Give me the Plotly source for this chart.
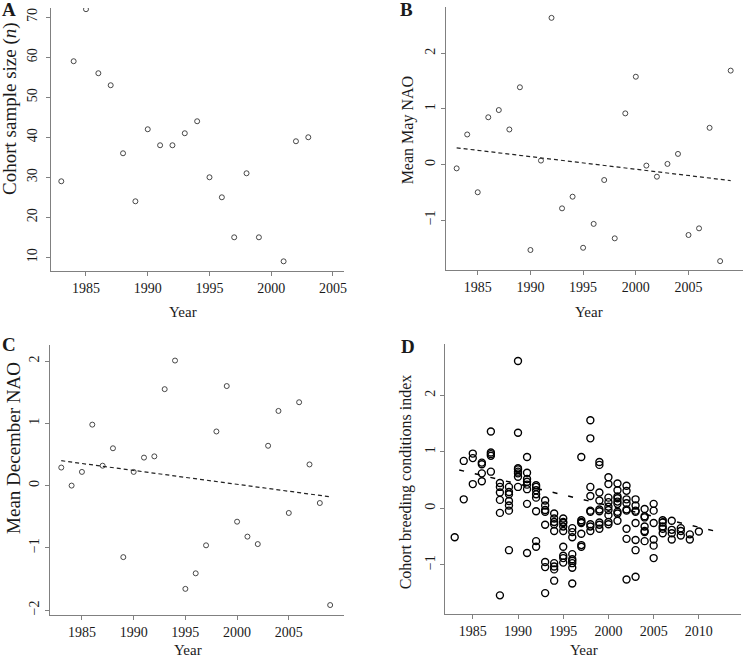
import plotly.graph_objects as go

# ---------------- data ----------------
years_a = [1983, 1984, 1985, 1986, 1987, 1988, 1989, 1990, 1991, 1992,
           1993, 1994, 1995, 1996, 1997, 1998, 1999, 2001, 2002, 2003]
sample_size = [29, 59, 72, 56, 53, 36, 24, 42, 38, 38,
               41, 44, 30, 25, 15, 31, 15, 9, 39, 40]

years_nao = list(range(1983, 2010))
may_nao = [-0.07, 0.54, -0.50, 0.85, 0.98, 0.63, 1.39, -1.54, 0.07, 2.64,
           -0.79, -0.58, -1.50, -1.07, -0.28, -1.33, 0.92, 1.58, -0.02, -0.22,
           0.01, 0.19, -1.27, -1.15, 0.66, -1.74, 1.69]
dec_nao = [0.29, 0.00, 0.22, 0.98, 0.32, 0.60, -1.15, 0.22, 0.45, 0.47,
           1.55, 2.01, -1.66, -1.41, -0.96, 0.87, 1.60, -0.58, -0.82, -0.94,
           0.64, 1.20, -0.44, 1.34, 0.34, -0.28, -1.92]

may_trend_x = [1983, 2009]
may_trend_y = [0.30, -0.29]
dec_trend_x = [1983, 2009]
dec_trend_y = [0.40, -0.18]

bci_by_year = {
    1983: [-0.51],
    1984: [0.84, 0.16],
    1985: [0.97, 0.89, 0.43],
    1986: [0.81, 0.78, 0.62, 0.48],
    1987: [1.36, 0.99, 0.96, 0.93, 0.65],
    1988: [0.45, 0.38, 0.28, 0.15, -0.08, -1.54],
    1989: [0.38, 0.29, 0.25, 0.13, 0.05, -0.04, -0.74],
    1990: [2.61, 1.34, 0.71, 0.69, 0.65, 0.62, 0.56, 0.38],
    1991: [0.91, 0.63, 0.52, 0.47, 0.42, 0.34, 0.08, -0.79],
    1992: [0.41, 0.38, 0.32, 0.25, 0.19, -0.05, -0.58, -0.68],
    1993: [0.14, 0.05, -0.03, -0.06, -0.29, -0.95, -1.04, -1.50],
    1994: [-0.09, -0.18, -0.24, -0.28, -0.40, -0.97, -1.03, -1.08, -1.28],
    1995: [-0.18, -0.24, -0.26, -0.32, -0.40, -0.68, -0.84, -0.88, -0.96],
    1996: [-0.35, -0.42, -0.51, -0.81, -0.90, -0.93, -0.97, -1.05, -1.33],
    1997: [0.91, -0.21, -0.24, -0.26, -0.45, -0.65, -0.68],
    1998: [1.56, 1.24, 0.38, 0.22, -0.04, -0.06, -0.28, -0.32, -0.40],
    1999: [0.82, 0.77, 0.28, 0.14, -0.02, -0.05, -0.25, -0.29, -0.36],
    2000: [0.55, 0.43, 0.19, 0.11, 0.03, -0.03, -0.12, -0.24, -0.28],
    2001: [0.44, 0.32, 0.21, 0.18, 0.12, 0.08, -0.06, -0.09, -0.22],
    2002: [0.40, 0.31, 0.16, 0.09, -0.02, -0.04, -0.36, -0.54, -1.26],
    2003: [0.16, 0.05, -0.04, -0.06, -0.26, -0.56, -0.74, -1.21],
    2004: [-0.01, -0.14, -0.16, -0.32, -0.40, -0.42, -0.58],
    2005: [0.08, -0.04, -0.26, -0.55, -0.66, -0.88],
    2006: [-0.21, -0.25, -0.32, -0.36, -0.44],
    2007: [-0.22, -0.38, -0.44, -0.55],
    2008: [-0.35, -0.40, -0.48],
    2009: [-0.46, -0.55],
    2010: [-0.41],
}
bci_years = [y for y, vals in bci_by_year.items() for _ in vals]
bci_values = [v for vals in bci_by_year.values() for v in vals]
bci_trend_x = [1983.5, 2012]
bci_trend_y = [0.68, -0.41]

# ---------------- figure ----------------
W, H = 747, 660
FONT = "Liberation Serif, Times New Roman, serif"
TXT = "#1a1a1a"
AX = "#808080"
TICK_SIZE = 14

def fx(px):
    return px / W

def fy(py):
    return 1 - py / H

fig = go.Figure()

small = dict(symbol="circle-open", size=5, color="#333333", line=dict(width=0.9, color="#333333"))
big = dict(symbol="circle-open", size=7, color="#000000", line=dict(width=1.4, color="#000000"))

fig.add_trace(go.Scatter(x=years_a, y=sample_size, mode="markers", marker=small,
                         xaxis="x", yaxis="y", showlegend=False))
fig.add_trace(go.Scatter(x=years_nao, y=may_nao, mode="markers", marker=small,
                         xaxis="x2", yaxis="y2", showlegend=False))
fig.add_trace(go.Scatter(x=may_trend_x, y=may_trend_y, mode="lines",
                         line=dict(color="#222222", width=1.2, dash="4px,3px"),
                         xaxis="x2", yaxis="y2", showlegend=False))
fig.add_trace(go.Scatter(x=years_nao, y=dec_nao, mode="markers", marker=small,
                         xaxis="x3", yaxis="y3", showlegend=False))
fig.add_trace(go.Scatter(x=dec_trend_x, y=dec_trend_y, mode="lines",
                         line=dict(color="#222222", width=1.2, dash="4px,3px"),
                         xaxis="x3", yaxis="y3", showlegend=False))
fig.add_trace(go.Scatter(x=bci_years, y=bci_values, mode="markers", marker=big,
                         xaxis="x4", yaxis="y4", showlegend=False))
fig.add_trace(go.Scatter(x=bci_trend_x, y=bci_trend_y, mode="lines",
                         line=dict(color="#000000", width=1.5, dash="5px,11px"),
                         xaxis="x4", yaxis="y4", showlegend=False))

def xax(dom, rng, anchor, tickvals, standoff=0):
    return dict(domain=dom, range=rng, anchor=anchor, showline=True, linecolor=AX, linewidth=1,
                showgrid=False, zeroline=False, ticks="outside", ticklen=4, tickcolor=AX,
                ticklabelstandoff=standoff,
                tickvals=tickvals, tickfont=dict(family=FONT, size=TICK_SIZE, color=TXT))

def yax(dom, rng, anchor, tickvals, standoff):
    return dict(domain=dom, range=rng, anchor=anchor, showline=True, linecolor=AX, linewidth=1,
                showgrid=False, zeroline=False, ticks="outside", ticklen=4, tickcolor=AX,
                ticklabelstandoff=standoff,
                tickvals=tickvals, tickangle=-90, tickfont=dict(family=FONT, size=TICK_SIZE, color=TXT))

yr_ticks = [1985, 1990, 1995, 2000, 2005]
fig.update_layout(
    width=W, height=H, margin=dict(l=0, r=0, t=0, b=0),
    paper_bgcolor="white", plot_bgcolor="white",
    font=dict(family=FONT, color=TXT),
    xaxis=xax([fx(51), fx(345)], [1982.15, 2005.86], "y", yr_ticks),
    yaxis=yax([fy(271), fy(8)], [6.58, 72.3], "x", [10, 20, 30, 40, 50, 60, 70], 3),
    xaxis2=xax([fx(447.7), fx(746)], [1981.98, 2010.17], "y2", yr_ticks),
    yaxis2=yax([fy(270), fy(7.3)], [-1.90, 2.83], "x2", [-1, 0, 1, 2], 0),
    xaxis3=xax([fx(50.7), fx(345)], [1981.96, 2010.3], "y3", yr_ticks),
    yaxis3=yax([fy(615), fy(345)], [-2.08, 2.26], "x3", [-2, -1, 0, 1, 2], 1),
    xaxis4=xax([fx(447), fx(744)], [1981.95, 2014.66], "y4", yr_ticks + [2010]),
    yaxis4=yax([fy(614), fy(344)], [-1.87, 2.91], "x4", [-1, 0, 1, 2], 0),
)

def ann(text, x, y, size=15, angle=0, bold=False):
    if bold:
        text = "<b>" + text + "</b>"
    fig.add_annotation(text=text, x=fx(x), y=fy(y), xref="paper", yref="paper",
                       showarrow=False, textangle=angle, xanchor="center", yanchor="middle",
                       font=dict(family=FONT, size=size, color=TXT))

# panel letters
ann("A", 9, 10, size=19, bold=True)
ann("B", 408, 10, size=19, bold=True)
ann("C", 9, 344, size=19, bold=True)
ann("D", 410, 346, size=19, bold=True)

# axis titles
ann("Year", 184, 312)
ann("Year", 591, 312)
ann("Year", 189, 650)
ann("Year", 586, 650)
ann("Cohort sample size (<i>n</i>)", 10, 108, size=19, angle=-90)
ann("Mean May NAO", 410, 130, size=16, angle=-90)
ann("Mean December NAO", 13, 448, size=19, angle=-90)
ann("Cohort breeding conditions index", 408, 482, size=16, angle=-90)

fig.write_html("out.html", config={"displayModeBar": False},
               post_script="document.body.style.margin='0';document.body.style.overflow='hidden';")
